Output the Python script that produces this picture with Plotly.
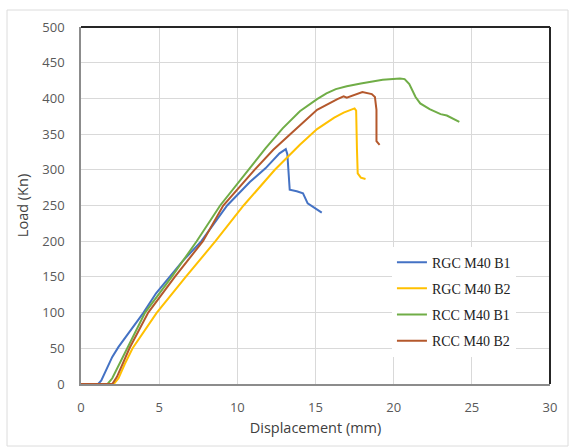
import plotly.graph_objects as go

# Load-displacement curves (displacement in mm, load in kN)
rgc_b1_x = [0, 1.1, 1.3, 1.6, 2.0, 2.4, 3.2, 4.0, 4.8, 5.7, 6.5, 7.7, 9.35, 10.8, 11.8, 12.7, 13.1,
            13.2, 13.3, 13.35, 13.8, 14.2, 14.5, 15.0, 15.4]
rgc_b1_y = [0, 0, 5, 20, 38, 52, 76, 100, 127, 150, 172, 200, 250, 283, 302, 323, 329,
            322, 290, 272, 270, 267, 253, 246, 240]

rgc_b2_x = [0, 2.1, 2.4, 2.8, 3.3, 4.85, 6.7, 8.6, 10.4, 12.4, 14.0, 15.1, 16.2, 16.8, 17.5,
            17.6, 17.65, 17.7, 17.9, 18.2]
rgc_b2_y = [0, 0, 8, 28, 50, 100, 150, 200, 250, 300, 335, 357, 373, 380, 386,
            383, 330, 295, 289, 287]

rcc_b1_x = [0, 1.7, 2.0, 2.5, 3.0, 4.1, 5.8, 7.4, 8.9, 10.7, 11.8, 12.9, 14.0, 15.1, 15.7, 16.3,
            17.0, 17.9, 19.3, 20.4, 20.7, 21.0, 21.2, 21.4, 21.7, 22.3, 23.0, 23.4, 24.2]
rcc_b1_y = [0, 0, 8, 30, 52, 100, 150, 200, 250, 300, 330, 358, 382, 399, 407, 413,
            417, 421, 426, 428, 427, 420, 412, 402, 393, 385, 378, 376, 367]

rcc_b2_x = [0, 2.0, 2.3, 2.7, 3.1, 4.3, 6.0, 7.8, 9.1, 11.1, 12.3, 13.4, 15.1, 16.4, 16.8, 17.0,
            17.7, 18.0, 18.6, 18.8, 18.9, 18.9, 19.1]
rcc_b2_y = [0, 0, 10, 30, 50, 100, 150, 200, 250, 300, 328, 350, 384, 399, 403, 401,
            407, 409, 406, 402, 384, 340, 335]

series = [
    ("RGC M40 B1", rgc_b1_x, rgc_b1_y, "#4472C4"),
    ("RGC M40 B2", rgc_b2_x, rgc_b2_y, "#FFC000"),
    ("RCC M40 B1", rcc_b1_x, rcc_b1_y, "#70AD47"),
    ("RCC M40 B2", rcc_b2_x, rcc_b2_y, "#B4582C"),
]

x_ticks = [0, 5, 10, 15, 20, 25, 30]
y_ticks = [0, 50, 100, 150, 200, 250, 300, 350, 400, 450, 500]

fig = go.Figure()
for name, xs, ys, color in series:
    fig.add_trace(go.Scatter(x=xs, y=ys, mode="lines", name=name, legendgroup=name,
                             line=dict(color=color, width=2)))

tick_font = dict(family="Open Sans", size=13, color="#595959")
title_font = dict(family="Open Sans", size=14.5, color="#404040")

fig.update_layout(
    width=571, height=448,
    margin=dict(l=81, r=21, t=27, b=64),
    paper_bgcolor="white", plot_bgcolor="white",
    showlegend=True,
    legend=dict(
        x=0.663, y=0.385, xanchor="left", yanchor="top",
        bgcolor="white", borderwidth=0,
        font=dict(family="Liberation Serif", size=14, color="#222222"),
        itemwidth=30, tracegroupgap=5,
    ),
    xaxis=dict(
        range=[0, 30], tickvals=x_ticks, showgrid=True, gridcolor="#d9d9d9", gridwidth=1,
        zeroline=False, showline=True, linecolor="#8c8c8c", linewidth=1.5,
        tickfont=tick_font, ticklabelstandoff=11,
        title=dict(text="Displacement (mm)", font=title_font, standoff=8),
    ),
    yaxis=dict(
        range=[0, 500], tickvals=y_ticks, showgrid=True, gridcolor="#d9d9d9", gridwidth=1,
        zeroline=False, showline=True, linecolor="#8c8c8c", linewidth=1.5,
        tickfont=tick_font, ticklabelstandoff=12,
        title=dict(text="Load (Kn)", font=title_font, standoff=10),
    ),
)

# Dark frame on the top and right of the plotting area
fig.add_shape(type="line", xref="paper", yref="paper", x0=0, x1=1, y0=1, y1=1,
              line=dict(color="#262626", width=2))
fig.add_shape(type="line", xref="paper", yref="paper", x0=1, x1=1, y0=0, y1=1,
              line=dict(color="#262626", width=2))

# Light outer border of the chart
fig.add_shape(type="rect", xref="paper", yref="paper",
              x0=(7 - 81) / 469, x1=(568 - 81) / 469,
              y0=(384 - 446) / 357, y1=(384 - 10) / 357,
              line=dict(color="#dcdcdc", width=1), layer="below")

fig.write_html("out.html")
